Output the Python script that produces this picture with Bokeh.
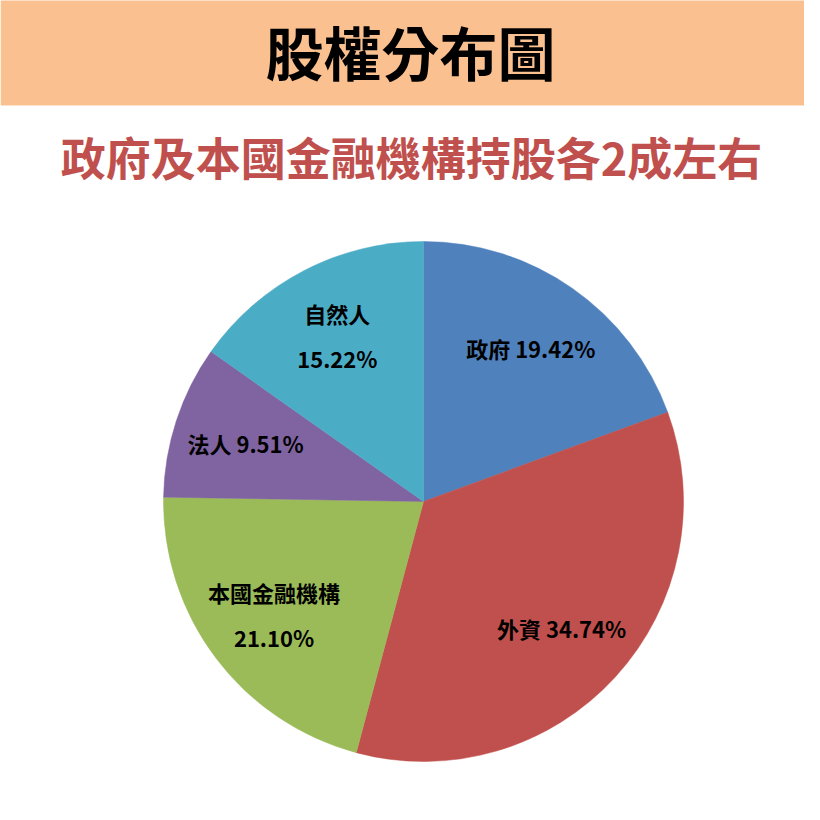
import math
from bokeh.plotting import figure
from bokeh.models import Range1d, ColumnDataSource
from bokeh.core.properties import value
from bokeh.embed import file_html
from bokeh.resources import INLINE

# ---- data ----
categories = ["政府", "外資", "本國金融機構", "法人", "自然人"]
shares = [19.42, 34.74, 21.10, 9.51, 15.22]
colors = ["#4F81BD", "#C0504D", "#9BBB59", "#8064A2", "#4BACC6"]
two_line_label = [False, False, True, False, True]
title_text = "股權分布圖"
subtitle_text = "政府及本國金融機構持股各2成左右"

FONT = "Noto Sans CJK TC"
W = H = 804

p = figure(width=W, height=H, output_backend="svg", toolbar_location=None,
           x_range=Range1d(0, W), y_range=Range1d(820 - H, 820),
           min_border=0, tools="")
p.axis.visible = False
p.grid.visible = False
p.outline_line_color = None
p.background_fill_color = "white"
p.border_fill_color = "white"

def Y(y_pix):
    return 820 - y_pix

# header band
p.quad(left=0, right=820, bottom=Y(105), top=Y(-10), fill_color="#FAC090", line_color=None)
p.text(x=[410], y=[Y(50)], text=[title_text], text_font=value(FONT), text_font_style="bold",
       text_font_size="58px", text_color="black", text_align="center", text_baseline="middle")
p.text(x=[411], y=[Y(156)], text=[subtitle_text], text_font=value(FONT), text_font_style="bold",
       text_font_size="45px", text_color="#C0504D", text_align="center", text_baseline="middle")

# pie
cx, cy, R = 423, Y(501), 260
total = sum(shares)
starts, ends, lx, ly, labels = [], [], [], [], []
cum = 0.0
for name, v, two in zip(categories, shares, two_line_label):
    c0 = cum / total
    cum += v
    c1 = cum / total
    starts.append(math.pi / 2 - 2 * math.pi * c1)
    ends.append(math.pi / 2 - 2 * math.pi * c0)
    mid = 2 * math.pi * (c0 + c1) / 2  # clockwise from top
    lx.append(cx + 0.72 * R * math.sin(mid))
    ly.append(cy + 0.72 * R * math.cos(mid))
    labels.append(name + ("\n" if two else " ") + f"{v:.2f}%")

src = ColumnDataSource(dict(start=starts, end=ends, color=colors, lx=lx, ly=ly, label=labels))
p.wedge(x=cx, y=cy, radius=R, start_angle="start", end_angle="end", fill_color="color",
        line_color="color", line_width=0.5, source=src)
p.text(x="lx", y="ly", text="label", source=src, text_font=value(FONT), text_font_style="bold",
       text_font_size="22px", text_color="black", text_align="center", text_baseline="middle",
       text_line_height=1.4)

open("out.html", "w").write(file_html(p, INLINE))
